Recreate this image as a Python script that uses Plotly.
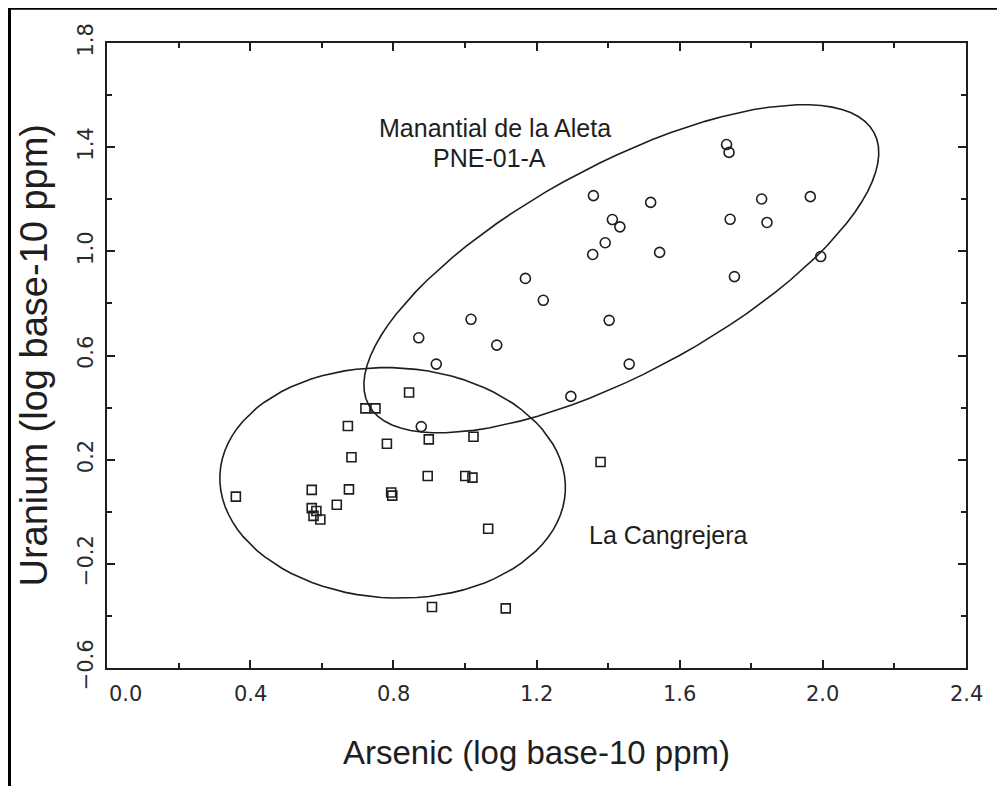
import numpy as np
import plotly.graph_objects as go

# ---- data (log10 ppm) ----
cangrejera_as = [0.360, 0.572, 0.676, 0.572, 0.585, 0.577, 0.596, 0.642, 0.673, 0.683,
                 0.722, 0.750, 0.782, 0.844, 0.794, 0.797, 0.899, 0.896, 1.024, 1.001,
                 1.021, 1.065, 1.379, 0.908, 1.114]
cangrejera_u = [0.058, 0.084, 0.086, 0.014, 0.003, -0.016, -0.030, 0.027, 0.329, 0.209,
                0.397, 0.397, 0.261, 0.458, 0.074, 0.062, 0.278, 0.137, 0.288, 0.137,
                0.131, -0.065, 0.191, -0.366, -0.371]

aleta_as = [1.359, 1.519, 1.412, 1.433, 1.392, 1.357, 1.544, 1.169, 1.219, 1.017,
            1.403, 0.871, 1.089, 0.920, 1.459, 1.731, 1.738, 1.829, 1.965, 1.741,
            1.844, 1.994, 1.753, 1.296, 0.878]
aleta_u = [1.214, 1.188, 1.122, 1.094, 1.033, 0.988, 0.996, 0.896, 0.812, 0.739,
           0.735, 0.668, 0.640, 0.567, 0.567, 1.410, 1.380, 1.201, 1.210, 1.123,
           1.111, 0.980, 0.903, 0.443, 0.327]

# ellipse definitions: centre and two conjugate half-axis vectors (data units)
aleta_ell_center = (1.437, 0.933)
aleta_ell_axis1 = (0.706, 0.523)
aleta_ell_axis2 = (0.1378, -0.3517)

cang_ell_center = (0.798, 0.111)
cang_ell_axis1 = (0.4825, -0.0323)
cang_ell_axis2 = (-0.0157, -0.4416)

x_ticks = [0.0, 0.4, 0.8, 1.2, 1.6, 2.0, 2.4]
x_ticklabels = ["0.0", "0.4", "0.8", "1.2", "1.6", "2.0", "2.4"]
y_ticks = [-0.6, -0.2, 0.2, 0.6, 1.0, 1.4, 1.8]
y_ticklabels = ["\u22120.6", "\u22120.2", "0.2", "0.6", "1.0", "1.4", "1.8"]

INK = "#1e1e1e"
TICK_INK = "#2a2a2a"


def ellipse(center, a1, a2, n=90):
    t = np.linspace(0, 2 * np.pi, n + 1)
    xs = center[0] + np.cos(t) * a1[0] + np.sin(t) * a2[0]
    ys = center[1] + np.cos(t) * a1[1] + np.sin(t) * a2[1]
    return xs, ys


fig = go.Figure()

for c, a1, a2 in [(aleta_ell_center, aleta_ell_axis1, aleta_ell_axis2),
                  (cang_ell_center, cang_ell_axis1, cang_ell_axis2)]:
    ex, ey = ellipse(c, a1, a2)
    fig.add_trace(go.Scatter(x=ex, y=ey, mode="lines",
                             line=dict(color=INK, width=1.6),
                             hoverinfo="skip", showlegend=False))

fig.add_trace(go.Scatter(x=cangrejera_as, y=cangrejera_u, mode="markers",
                         marker=dict(symbol="square-open", size=9, color=INK,
                                     line=dict(width=1.6)),
                         name="La Cangrejera", showlegend=False))
fig.add_trace(go.Scatter(x=aleta_as, y=aleta_u, mode="markers",
                         marker=dict(symbol="circle-open", size=10, color=INK,
                                     line=dict(width=1.6)),
                         name="Manantial de la Aleta PNE-01-A", showlegend=False))

axis_common = dict(
    showline=True, linecolor=INK, linewidth=2, mirror="ticks",
    ticks="inside", ticklen=8, tickwidth=1.5, tickcolor=INK,
    showgrid=False, zeroline=False,
    minor=dict(dtick=0.2, ticks="inside", ticklen=5, tickwidth=1.5, tickcolor=INK,
               showgrid=False),
)

fig.update_xaxes(range=[0, 2.4], tickvals=x_ticks, ticktext=x_ticklabels,
                 showticklabels=False, **axis_common)
fig.update_yaxes(range=[-0.6, 1.8], tickvals=y_ticks, ticktext=y_ticklabels,
                 tickangle=-90, ticklabelstandoff=4,
                 tickfont=dict(family="DejaVu Sans", size=21, color=TICK_INK),
                 **axis_common)

annotations = []
for i, (v, lab) in enumerate(zip(x_ticks, x_ticklabels)):
    annotations.append(dict(x=v, y=0, xref="x", yref="paper", text=lab,
                            showarrow=False, xanchor="left" if i == 0 else "center",
                            yanchor="top", yshift=-12,
                            font=dict(family="DejaVu Sans", size=21, color=TICK_INK)))

annotations += [
    dict(x=0.5, y=-0.135, xref="paper", yref="paper",
         text="Arsenic (log base-10 ppm)", showarrow=False,
         xanchor="center", yanchor="middle",
         font=dict(family="Liberation Sans", size=33, color=INK)),
    dict(x=-0.0861, y=0.5, xref="paper", yref="paper",
         text="Uranium (log base-10 ppm)", showarrow=False, textangle=-90,
         xanchor="center", yanchor="middle",
         font=dict(family="Liberation Sans", size=38, color=INK)),
    dict(x=1.085, y=1.475, xref="x", yref="y", text="Manantial de la Aleta",
         showarrow=False, xanchor="center", yanchor="middle",
         font=dict(family="Liberation Sans", size=25, color=INK)),
    dict(x=1.068, y=1.36, xref="x", yref="y", text="PNE-01-A",
         showarrow=False, xanchor="center", yanchor="middle",
         font=dict(family="Liberation Sans", size=25, color=INK)),
    dict(x=1.340, y=-0.088, xref="x", yref="y", text="La Cangrejera",
         showarrow=False, xanchor="left", yanchor="middle",
         font=dict(family="Liberation Sans", size=25, color=INK)),
]

# outer frame (only top and left edges fall inside the picture)
shapes = [dict(type="rect", xref="paper", yref="paper",
               x0=-0.1135, x1=1.3, y0=-0.6, y1=1.0555,
               line=dict(color="black", width=3), fillcolor="rgba(0,0,0,0)",
               layer="above")]

# the page body has an 8px margin, so the figure is sized and padded to
# land the plot area at the same pixels as the reference
fig.update_layout(
    width=997, height=778,
    margin=dict(l=99, r=39, t=35, b=118),
    paper_bgcolor="white", plot_bgcolor="white",
    annotations=annotations, shapes=shapes,
    showlegend=False,
)

fig.write_html("out.html")
